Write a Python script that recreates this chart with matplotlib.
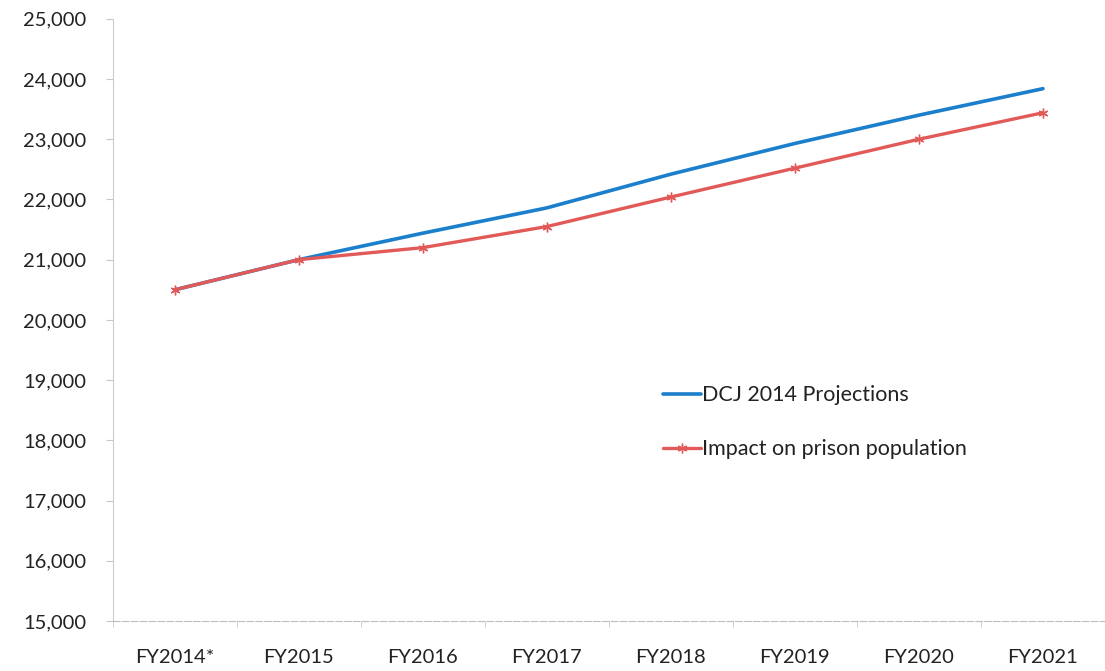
import matplotlib.pyplot as plt
import numpy as np
from matplotlib.ticker import FuncFormatter

# fiscal years and projected prison population
years = ['FY2014*', 'FY2015', 'FY2016', 'FY2017', 'FY2018', 'FY2019', 'FY2020', 'FY2021']
dcj_projections = [20500, 21000, 21440, 21860, 22420, 22930, 23400, 23840]
impact_population = [20500, 21000, 21200, 21550, 22040, 22520, 23000, 23440]

plt.rcParams['font.family'] = ['Lato', 'DejaVu Sans']

fig = plt.figure(figsize=(11.05, 6.71), dpi=100)
ax = fig.add_axes([0.102, 0.0745, 0.898, 0.8975])

x = np.arange(len(years))
ax.plot(x, dcj_projections, color='#1b7fcc', linewidth=2.6,
        label='DCJ 2014 Projections', solid_capstyle='round')
ax.plot(x, impact_population, color='#e25a58', linewidth=2.4,
        marker=(6, 2, 0), markersize=7, markeredgewidth=1.0,
        label='Impact on prison population', solid_capstyle='round')

ax.set_xlim(-0.5, len(years) - 0.5)
ax.set_ylim(15000, 25000)
ax.set_yticks(range(15000, 25001, 1000))
ax.yaxis.set_major_formatter(FuncFormatter(lambda v, p: f'{int(v):,}'))

ax.set_xticks(x)
ax.set_xticklabels(years)
ax.set_xticks(np.arange(-0.5, len(years), 1.0), minor=True)

ax.tick_params(axis='x', which='major', length=0, pad=20, labelsize=14.5, colors='#222222')
ax.tick_params(axis='x', which='minor', length=4, color='#c8c8c8')
ax.tick_params(axis='y', length=5, color='#c8c8c8', pad=14, labelsize=14.5, labelcolor='#222222')

for side in ['top', 'right']:
    ax.spines[side].set_visible(False)
ax.spines['left'].set_color('#cccccc')
ax.spines['bottom'].set_color('#bdbdbd')
ax.spines['bottom'].set_linestyle((0, (6, 2)))

leg = ax.legend(loc='upper left', bbox_to_anchor=(0.535, 0.424), frameon=False,
                fontsize=15.5, handlelength=1.75, handletextpad=0.05, labelspacing=1.6)
for t in leg.get_texts():
    t.set_color('#222222')

fig.savefig('out.png', dpi=100)
